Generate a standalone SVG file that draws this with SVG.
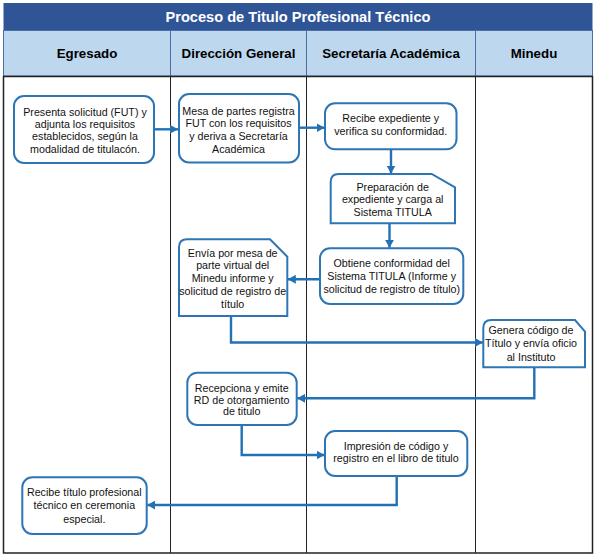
<svg xmlns="http://www.w3.org/2000/svg" width="597" height="558" viewBox="0 0 597 558">
<defs>
<style>
.title{font-family:"Liberation Sans",Arial,sans-serif;font-weight:bold;font-size:14.6px;fill:#ffffff;text-anchor:middle}
.hdr{font-family:"Liberation Sans",Arial,sans-serif;font-weight:bold;font-size:13.3px;fill:#000000;text-anchor:middle}
.box{fill:#ffffff;stroke:#2E75B6;stroke-width:2}
.t{font-family:"Liberation Sans",Arial,sans-serif;font-size:10.7px;fill:#111111;text-anchor:middle}
.con{fill:none;stroke:#2271B5;stroke-width:2.4;marker-end:url(#arr)}
</style>
<marker id="arr" markerUnits="userSpaceOnUse" markerWidth="9" markerHeight="9" refX="8" refY="4.5" orient="auto">
<path d="M0,0 L8,4.5 L0,9 Z" fill="#2271B5"/>
</marker>
</defs>
<rect width="597" height="558" fill="#ffffff"/>
<g id="frame">
<rect x="3.5" y="3" width="589" height="27.5" fill="#2F5597"/>
<text class="title" x="298" y="22">Proceso de Titulo Profesional Técnico</text>
<rect x="3.5" y="30.5" width="589" height="45.5" fill="#BDD7EE" stroke="#4A6FA5" stroke-width="1"/>
<line x1="170.5" y1="30.5" x2="170.5" y2="76" stroke="#4A6FA5" stroke-width="1"/>
<line x1="306.5" y1="30.5" x2="306.5" y2="76" stroke="#4A6FA5" stroke-width="1"/>
<line x1="475.5" y1="30.5" x2="475.5" y2="76" stroke="#4A6FA5" stroke-width="1"/>
<text class="hdr" x="87" y="58">Egresado</text>
<text class="hdr" x="238.5" y="58">Dirección General</text>
<text class="hdr" x="391" y="58">Secretaría Académica</text>
<text class="hdr" x="534" y="58">Minedu</text>
<rect x="3.5" y="76.5" width="589" height="476.5" fill="none" stroke="#222222" stroke-width="1.5"/>
<line x1="170.5" y1="76.5" x2="170.5" y2="553" stroke="#222222" stroke-width="1"/>
<line x1="306.5" y1="76.5" x2="306.5" y2="553" stroke="#222222" stroke-width="1"/>
<line x1="475.5" y1="76.5" x2="475.5" y2="553" stroke="#222222" stroke-width="1"/>
</g>
<g id="connectors">
<path class="con" d="M155,129.3 H178"/>
<path class="con" d="M299,127.7 H324.5"/>
<path class="con" d="M391,149.3 V173.5"/>
<path class="con" d="M389.5,223.3 V247.8"/>
<path class="con" d="M320,279.3 H287.8"/>
<path class="con" d="M231,316 V342.5 H482.8"/>
<path class="con" d="M534.3,367.3 V398.3 H297.2"/>
<path class="con" d="M241.7,425 V455 H324.5"/>
<path class="con" d="M396.7,476 V505 H147.2"/>
</g>
<g id="n1">
<rect class="box" x="14" y="96" width="140" height="67" rx="10"/>
<text class="t" x="85" y="116">Presenta solicitud (FUT) y</text>
<text class="t" x="85" y="128.2">adjunta los requisitos</text>
<text class="t" x="85" y="140.4">establecidos, según la</text>
<text class="t" x="85" y="152.6">modalidad de titulacón.</text>
</g>
<g id="n2">
<rect class="box" x="179" y="94" width="120" height="68.5" rx="10"/>
<text class="t" x="238.5" y="114.5">Mesa de partes registra</text>
<text class="t" x="238.5" y="127.2">FUT con los requisitos</text>
<text class="t" x="238.5" y="140">y deriva a Secretaría</text>
<text class="t" x="238.5" y="152.8">Académica</text>
</g>
<g id="n3">
<rect class="box" x="325" y="103.3" width="131.5" height="46" rx="10"/>
<text class="t" x="390.7" y="121.5">Recibe expediente y</text>
<text class="t" x="390.7" y="135">verifica su conformidad.</text>
</g>
<g id="n4">
<path class="box" d="M330.7,223.3 V182 Q330.7,174 338.7,174 H431.7 L455,187.3 V223.3 Z"/>
<text class="t" x="392.7" y="190.5">Preparación de</text>
<text class="t" x="392.7" y="203">expediente y carga al</text>
<text class="t" x="392.7" y="215.5">Sistema TITULA</text>
</g>
<g id="n5">
<rect class="box" x="320" y="248.3" width="143.3" height="55.7" rx="10"/>
<text class="t" x="391.7" y="267">Obtiene conformidad del</text>
<text class="t" x="391.7" y="280">Sistema TITULA (Informe y</text>
<text class="t" x="391.7" y="293">solicitud de registro de título)</text>
</g>
<g id="n6">
<path class="box" d="M179,316 V247.3 Q179,239.3 187,239.3 H270 L287.3,256.7 V316 Z"/>
<text class="t" x="232.7" y="256.5">Envía por mesa de</text>
<text class="t" x="232.7" y="269">parte virtual del</text>
<text class="t" x="232.7" y="281.5">Minedu informe y</text>
<text class="t" x="232.7" y="294.5">solicitud de registro de</text>
<text class="t" x="232.7" y="307.5">título</text>
</g>
<g id="n7">
<path class="box" d="M483.3,367.3 V328 Q483.3,320 491.3,320 H575 L585,331.7 V367.3 Z"/>
<text class="t" x="531" y="334">Genera código de</text>
<text class="t" x="531" y="347">Título y envía oficio</text>
<text class="t" x="531" y="360.5">al Instituto</text>
</g>
<g id="n8">
<rect class="box" x="187.3" y="372.7" width="109.4" height="52.3" rx="10"/>
<text class="t" x="241.7" y="391.5">Recepciona y emite</text>
<text class="t" x="241.7" y="403.5">RD de otorgamiento</text>
<text class="t" x="241.7" y="415">de titulo</text>
</g>
<g id="n9">
<rect class="box" x="325" y="431" width="142.3" height="45" rx="10"/>
<text class="t" x="396" y="449.5">Impresión de código y</text>
<text class="t" x="396" y="462">registro en el libro de titulo</text>
</g>
<g id="n10">
<rect class="box" x="22.3" y="477.3" width="124.4" height="56.7" rx="10"/>
<text class="t" x="84.3" y="496">Recibe título profesional</text>
<text class="t" x="84.3" y="509">técnico en ceremonia</text>
<text class="t" x="84.3" y="522.5">especial.</text>
</g>
</svg>
